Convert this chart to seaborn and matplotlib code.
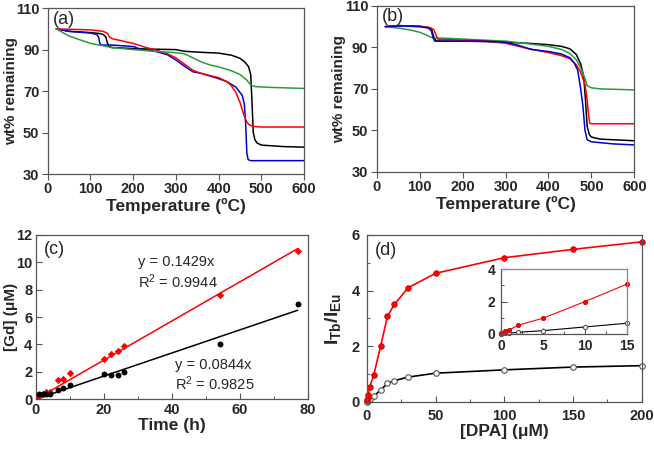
import numpy as np
import pandas as pd
import matplotlib
matplotlib.use("Agg")
import matplotlib.pyplot as plt
import seaborn as sns
from matplotlib.ticker import MultipleLocator

sns.set_theme(style="ticks")
plt.rcParams['font.family'] = ['Liberation Sans', 'DejaVu Sans']
plt.rcParams['mathtext.fontset'] = 'custom'
plt.rcParams['mathtext.rm'] = 'Liberation Sans:bold'
plt.rcParams['mathtext.bf'] = 'Liberation Sans:bold'
plt.rcParams['mathtext.it'] = 'Liberation Sans:bold'

# ---------------- Panel (a) TGA ----------------
a_black_T = [20, 50, 100, 120, 130, 136, 140, 145, 150, 200, 250, 300, 320, 350, 400, 430, 450, 460, 470, 475, 478, 481, 485, 490, 500, 550, 600]
a_black_w = [100, 98.8, 98.2, 97.8, 97.3, 96, 93, 91.5, 91, 90.5, 90.2, 90, 89.2, 88.8, 88.3, 87.3, 85.8, 84.3, 81.8, 78, 65, 50, 46.5, 45, 44, 43.3, 43]
a_blue_T = [20, 50, 100, 115, 119, 122, 125, 150, 200, 220, 250, 280, 300, 320, 340, 360, 400, 420, 440, 455, 460, 463, 466, 469, 475, 500, 600]
a_blue_w = [100, 98.8, 98, 97.3, 96, 93, 92.2, 92.2, 91.5, 90, 89.3, 87.5, 85, 82, 79.3, 78.5, 76, 74.5, 72, 68, 64, 55, 40, 37, 36.5, 36.5, 36.5]
a_red_T = [20, 50, 100, 130, 140, 145, 150, 200, 230, 250, 280, 300, 320, 340, 360, 400, 420, 430, 440, 450, 460, 465, 470, 480, 500, 600]
a_red_w = [100, 99.8, 99.5, 98.8, 97.8, 96, 95.3, 93, 91, 90, 88, 86, 83, 80, 78.5, 76.5, 74.5, 72.5, 69.5, 64.5, 58, 55.5, 54, 53, 52.7, 52.7]
a_green_T = [20, 50, 100, 150, 200, 250, 300, 320, 340, 360, 380, 400, 430, 450, 465, 475, 485, 520, 600]
a_green_w = [100, 96.5, 93, 91, 90, 89.2, 88.5, 88, 86, 84, 82.6, 81.7, 79.8, 78, 75.5, 73, 72.2, 71.8, 71.3]

# ---------------- Panel (b) TGA ----------------
b_black_T = [20, 50, 100, 120, 128, 133, 138, 150, 200, 250, 300, 350, 400, 430, 450, 465, 475, 482, 486, 490, 495, 500, 520, 600]
b_black_w = [100, 100.5, 100.2, 99.6, 98.5, 95, 93.2, 93, 93, 92.8, 92.5, 92, 91.3, 90.5, 89.3, 86.5, 82, 76, 65, 52, 48, 46.8, 45.8, 45]
b_blue_T = [20, 50, 100, 120, 127, 131, 135, 150, 200, 250, 300, 330, 360, 400, 430, 450, 460, 468, 475, 480, 485, 490, 500, 550, 600]
b_blue_w = [100, 100.3, 100, 99.3, 98, 95, 93, 93, 93, 93, 92.5, 91, 89, 88, 86.8, 85, 82.5, 79, 70, 62, 50, 45.5, 44.5, 43.5, 43]
b_red_T = [20, 50, 100, 125, 133, 138, 142, 150, 200, 250, 300, 350, 400, 430, 450, 465, 475, 485, 490, 493, 496, 500, 600]
b_red_w = [100, 100.5, 100, 99.5, 98.5, 96, 94, 93.8, 93.5, 93, 92, 89.5, 87.5, 86, 84.5, 81.5, 78, 72, 65, 58, 53.5, 53.2, 53.2]
b_green_T = [20, 50, 80, 100, 115, 125, 132, 140, 150, 200, 250, 300, 350, 400, 430, 450, 465, 475, 485, 490, 500, 520, 600]
b_green_w = [100, 99.3, 98.3, 97.3, 96, 95, 94.3, 94.5, 94.5, 94, 93.5, 93, 91.8, 90.5, 89, 87, 84, 80, 75, 71.5, 70.5, 70, 69.5]
tga_yticks = [30, 50, 70, 90, 110]

# ---------------- Panel (c) Gd release ----------------
c_time_red = [1, 2, 3, 4, 6.5, 8, 10, 20, 22, 24, 26, 54, 77]
c_gd_red = [0.25, 0.4, 0.5, 0.55, 1.4, 1.5, 1.9, 2.95, 3.3, 3.5, 3.85, 7.6, 10.85]
c_time_black = [1, 2, 3, 4, 6.5, 8, 10, 20, 22, 24, 26, 54, 77]
c_gd_black = [0.37, 0.35, 0.38, 0.41, 0.66, 0.83, 1.02, 1.83, 1.75, 1.78, 2.0, 4.05, 6.95]
c_slope_red = 0.1429
c_slope_black = 0.0844
c_fit_x = [0, 77]

# ---------------- Panel (d) DPA titration ----------------
d_dpa = [0, 0.5, 1, 2, 5, 10, 15, 20, 30, 50, 100, 150, 200]
d_red = [0.05, 0.15, 0.25, 0.53, 0.97, 2.0, 3.08, 3.5, 4.1, 4.62, 5.18, 5.48, 5.75]
d_black = [0.0, 0.03, 0.05, 0.1, 0.2, 0.43, 0.66, 0.76, 0.89, 1.03, 1.15, 1.25, 1.3]
inset_max = 15

RED = "#ff0000"
BLUE = "#0000d0"
GREEN = "#2a9a3a"
BLACK = "#000000"
SPINE = "#555555"

fig = plt.figure(figsize=(6.54, 4.5), dpi=100)
ax_a = fig.add_axes([0.073, 0.613, 0.392, 0.369])
ax_b = fig.add_axes([0.576, 0.618, 0.394, 0.369])
ax_c = fig.add_axes([0.055, 0.113, 0.416, 0.365])
ax_d = fig.add_axes([0.561, 0.107, 0.420, 0.371])
ax_i = fig.add_axes([0.766, 0.258, 0.193, 0.144])

TICK_FS = 10.5
LAB_FS = 12.5
YLAB_FS = 11


def style(ax, fs=TICK_FS, direction='out', pad=2):
    for s in ax.spines.values():
        s.set_color(SPINE)
        s.set_linewidth(0.9)
        s.set_visible(True)
    ax.tick_params(axis='both', which='major', labelsize=fs, length=4, width=0.8,
                   color=SPINE, pad=pad, direction=direction)
    ax.tick_params(axis='both', which='minor', length=2.5, width=0.7, color=SPINE,
                   direction=direction)
    for lab in ax.get_xticklabels() + ax.get_yticklabels():
        lab.set_fontweight('bold')
    ax.set_facecolor('white')


def tga(ax, curves, label, ylab_x):
    for T, w, col in curves:
        df = pd.DataFrame({"T": T, "w": w})
        sns.lineplot(data=df, x="T", y="w", ax=ax, color=col, lw=1.1, sort=False,
                     estimator=None)
    ax.set_xlim(0, 600)
    ax.set_ylim(30, 110)
    ax.xaxis.set_major_locator(MultipleLocator(100))
    ax.set_yticks(tga_yticks)
    ax.set_xlabel("Temperature (ºC)", fontsize=LAB_FS, fontweight='bold', labelpad=1)
    ax.set_ylabel("wt% remaining", fontsize=YLAB_FS, fontweight='bold')
    ax.yaxis.set_label_coords(ylab_x, 0.5)
    ax.text(0.02, 0.985, label, transform=ax.transAxes, fontsize=13, va='top', ha='left')
    style(ax, direction='out', pad=2)


tga(ax_a, [(a_black_T, a_black_w, BLACK), (a_blue_T, a_blue_w, BLUE),
           (a_red_T, a_red_w, RED), (a_green_T, a_green_w, GREEN)], "(a)", -0.117)
tga(ax_b, [(b_black_T, b_black_w, BLACK), (b_green_T, b_green_w, GREEN),
           (b_red_T, b_red_w, RED), (b_blue_T, b_blue_w, BLUE)], "(b)", -0.12)

# ---- panel c ----
fx = np.array(c_fit_x, dtype=float)
sns.lineplot(x=fx, y=c_slope_red * fx, ax=ax_c, color=RED, lw=1.1)
sns.lineplot(x=fx, y=c_slope_black * fx, ax=ax_c, color=BLACK, lw=1.1)
sns.scatterplot(x=c_time_red, y=c_gd_red, ax=ax_c, color=RED, s=14, marker='D',
                edgecolor=RED, linewidth=0, zorder=3)
sns.scatterplot(x=c_time_black, y=c_gd_black, ax=ax_c, color=BLACK, s=18, marker='o',
                edgecolor=BLACK, linewidth=0, zorder=3)
ax_c.set_xlim(0, 80)
ax_c.set_ylim(0, 12)
ax_c.xaxis.set_major_locator(MultipleLocator(20))
ax_c.xaxis.set_minor_locator(MultipleLocator(10))
ax_c.yaxis.set_major_locator(MultipleLocator(2))
ax_c.set_xlabel("Time (h)", fontsize=LAB_FS, fontweight='bold', labelpad=1)
ax_c.set_ylabel("[Gd] (μM)", fontsize=YLAB_FS, fontweight='bold')
ax_c.yaxis.set_label_coords(-0.066, 0.5)
ax_c.text(30, 10.0, "y = %.4fx" % c_slope_red, fontsize=10.5, va='center')
ax_c.text(30, 8.6, "R$^{\\mathregular{2}}$ = 0.9944", fontsize=10.5, va='center')
ax_c.text(41, 2.5, "y = %.4fx" % c_slope_black, fontsize=10.5, va='center')
ax_c.text(41, 1.1, "R$^{\\mathregular{2}}$ = 0.9825", fontsize=10.5, va='center')
ax_c.text(0.03, 0.96, "(c)", transform=ax_c.transAxes, fontsize=13, va='top', ha='left')
style(ax_c, direction='in', pad=2.5)

# ---- panel d ----
def titr(ax, x, yr, yb, lw=1.2, ms=4):
    df = pd.DataFrame({"x": x, "r": yr, "b": yb})
    sns.lineplot(data=df, x="x", y="b", ax=ax, color=BLACK, lw=lw, marker='o',
                 markersize=ms, markerfacecolor='white', markeredgecolor='#555555',
                 markeredgewidth=0.8, clip_on=False)
    sns.lineplot(data=df, x="x", y="r", ax=ax, color=RED, lw=lw, marker='o',
                 markersize=ms, markerfacecolor=RED, markeredgecolor='#cc0000',
                 markeredgewidth=0.6, clip_on=False)

titr(ax_d, d_dpa, d_red, d_black)
ax_d.set_xlim(0, 200)
ax_d.set_ylim(0, 6)
ax_d.xaxis.set_major_locator(MultipleLocator(50))
ax_d.xaxis.set_minor_locator(MultipleLocator(25))
ax_d.yaxis.set_major_locator(MultipleLocator(2))
ax_d.yaxis.set_minor_locator(MultipleLocator(1))
ax_d.set_xlabel("[DPA] (μM)", fontsize=LAB_FS, fontweight='bold', labelpad=1)
ax_d.set_ylabel(r"$\mathrm{I_{Tb}/I_{Eu}}$", fontsize=14, labelpad=6)
ax_d.text(0.03, 0.96, "(d)", transform=ax_d.transAxes, fontsize=13, va='top', ha='left')
style(ax_d, direction='in', pad=5)

# inset
xs = [v for v in d_dpa if v <= inset_max]
n = len(xs)
titr(ax_i, xs, d_red[:n], d_black[:n], lw=0.8, ms=3)
ax_i.set_xlim(0, 15)
ax_i.set_ylim(0, 4)
ax_i.xaxis.set_major_locator(MultipleLocator(5))
ax_i.xaxis.set_minor_locator(MultipleLocator(2.5))
ax_i.yaxis.set_major_locator(MultipleLocator(2))
ax_i.yaxis.set_minor_locator(MultipleLocator(1))
ax_i.set_xlabel("")
ax_i.set_ylabel("")
style(ax_i, fs=10, direction='in', pad=4)
for s in ['right', 'top']:
    ax_i.spines[s].set_color('#888888')

fig.savefig("out.png", dpi=100)
